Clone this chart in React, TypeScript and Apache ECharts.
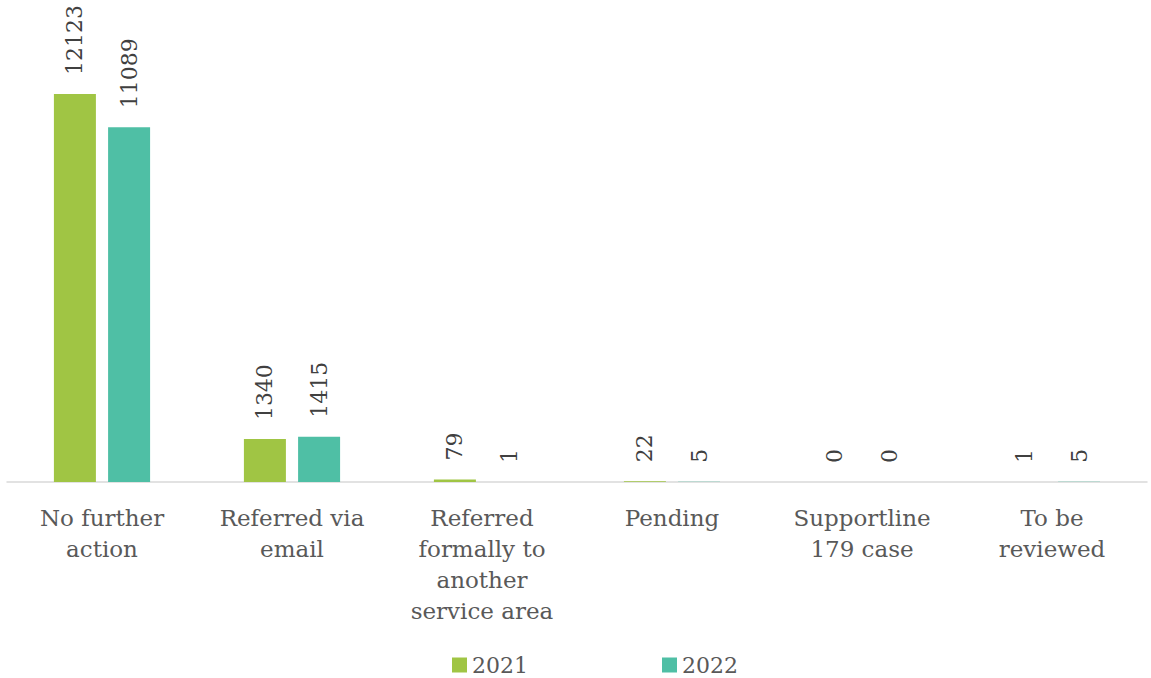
import React, { useEffect, useRef } from "react";
import * as echarts from "echarts";

const categories = [
  "No further\naction",
  "Referred via\nemail",
  "Referred\nformally to\nanother\nservice area",
  "Pending",
  "Supportline\n179 case",
  "To be\nreviewed",
];
const values2021 = [12123, 1340, 79, 22, 0, 1];
const values2022 = [11089, 1415, 1, 5, 0, 5];
const seriesNames = ["2021", "2022"];

const FONT = "'DejaVu Serif', serif";

export default function App() {
  const ref = useRef<HTMLDivElement>(null);
  useEffect(() => {
    document.body.style.margin = "0";
    const chart = echarts.init(ref.current!, null, { renderer: "svg" });
    const label = {
      show: true,
      position: "top" as const,
      rotate: 90,
      align: "left" as const,
      verticalAlign: "middle" as const,
      distance: 19,
      color: "#404040",
      fontSize: 22,
      fontFamily: FONT,
    };
    chart.setOption({
      animation: false,
      backgroundColor: "#ffffff",
      grid: { left: 7, right: 4, top: 34, bottom: 196, containLabel: false },
      legend: {
        top: 649,
        left: 447,
        itemWidth: 15,
        itemHeight: 15,
        itemGap: 134,
        icon: "rect",
        textStyle: { color: "#595959", fontSize: 22, fontFamily: FONT },
        data: seriesNames,
      },
      xAxis: {
        type: "category",
        data: categories,
        axisLine: { lineStyle: { color: "#D9D9D9", width: 1.5 } },
        axisTick: { show: false },
        axisLabel: {
          interval: 0,
          color: "#595959",
          fontSize: 23,
          fontFamily: FONT,
          lineHeight: 31,
          margin: 20,
        },
      },
      yAxis: {
        type: "value",
        min: 0,
        max: 14000,
        show: false,
        splitLine: { show: false },
      },
      series: [
        {
          name: seriesNames[0],
          type: "bar",
          data: values2021,
          itemStyle: { color: "#A0C544" },
          barWidth: 42,
          barGap: "29%",
          label,
        },
        {
          name: seriesNames[1],
          type: "bar",
          data: values2022,
          itemStyle: { color: "#4FBFA5" },
          barWidth: 42,
          label,
        },
      ],
    });
    return () => chart.dispose();
  }, []);
  return <div ref={ref} style={{ width: 1151, height: 678 }} />;
}
